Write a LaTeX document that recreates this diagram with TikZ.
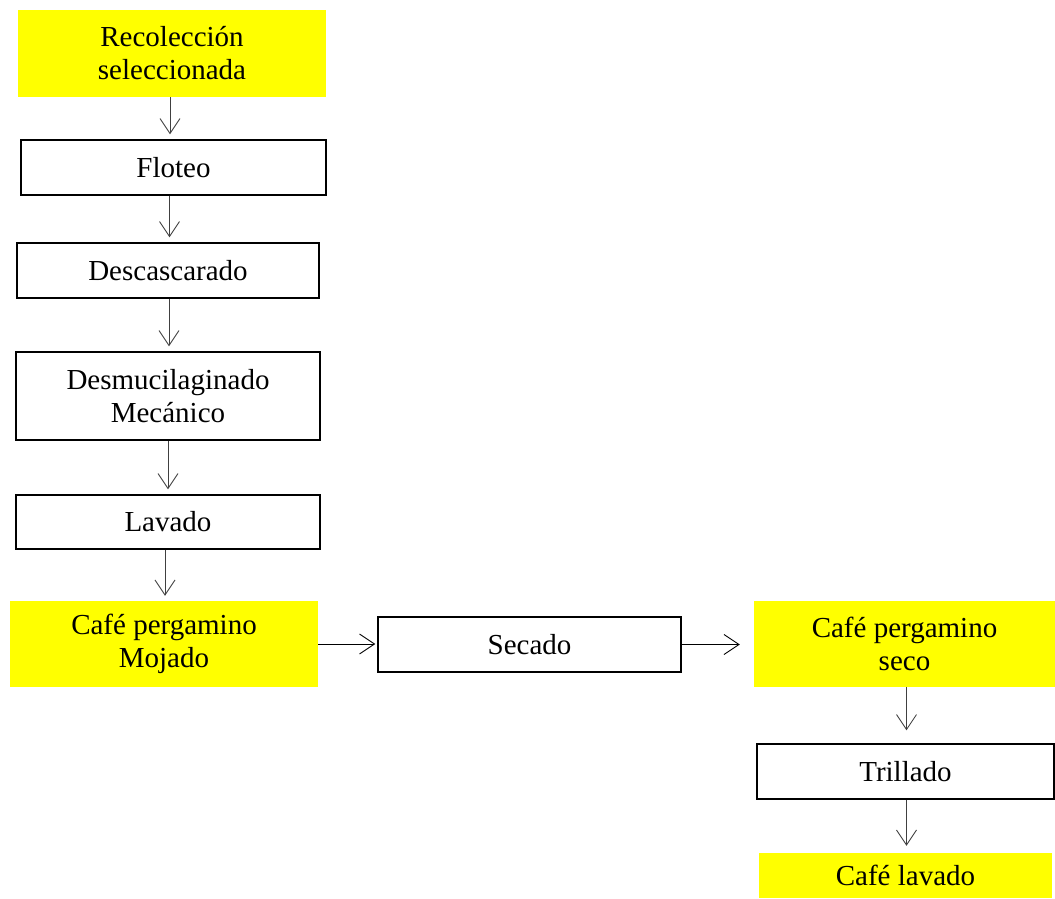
\documentclass[tikz,border=0pt]{standalone}
\usepackage{fontspec}
\setmainfont{Liberation Serif}
\usetikzlibrary{arrows.meta}

\definecolor{hlyellow}{RGB}{255,255,0}

\tikzset{
    stepbox/.style={draw, line width=1.3pt, align=center, inner sep=0pt,
        font=\fontsize{29}{33}\selectfont},
    goal/.style={fill=hlyellow, align=center, inner sep=0pt,
        font=\fontsize{29}{33}\selectfont},
    flow/.style={draw=black!75, line width=0.9pt,
        arrows={-Straight Barb[length=15pt, width=20pt, line width=0.9pt]}},
}

\begin{document}
\begin{tikzpicture}[x=1pt, y=-1pt]
    \useasboundingbox (0,0) rectangle (1055,899);

    % left column
    \node[goal, minimum width=308, minimum height=87] (rec) at (172,53.5) {Recolección\\seleccionada};
    \node[stepbox, minimum width=305, minimum height=55] (flo) at (173.5,167.5) {Floteo};
    \node[stepbox, minimum width=302, minimum height=55] (desc) at (168,270.5) {Descascarado};
    \node[stepbox, minimum width=304, minimum height=88] (desm) at (168,396) {Desmucilaginado\\Mecánico};
    \node[stepbox, minimum width=304, minimum height=54] (lav) at (168,522) {Lavado};
    \node[goal, minimum width=308, minimum height=86] (moj) at (164,644) {Café pergamino\\Mojado};

    % middle and right column
    \node[stepbox, minimum width=303, minimum height=55] (sec) at (529.5,644.5) {Secado};
    \node[goal, minimum width=301, minimum height=86] (seco) at (904.5,644) {Café pergamino\\seco};
    \node[stepbox, minimum width=297, minimum height=55] (tri) at (905.5,771.5) {Trillado};
    \node[goal, minimum width=293, minimum height=45] (lavado) at (905.5,875.5) {Café lavado};

    \draw[flow, shorten >=5pt] ([xshift=-2pt]rec.south) -- ([xshift=-2pt]rec.south |- flo.north);
    \draw[flow, shorten >=5pt] ([xshift=-4pt]flo.south) -- ([xshift=-4pt]flo.south |- desc.north);
    \draw[flow, shorten >=5pt] ([xshift=1pt]desc.south) -- ([xshift=1pt]desc.south |- desm.north);
    \draw[flow, shorten >=5pt] (desm.south) -- (desm.south |- lav.north);
    \draw[flow, shorten >=5pt] ([xshift=-3pt]lav.south) -- ([xshift=-3pt]lav.south |- moj.north);
    \draw[flow, draw=black, shorten >=2pt] (moj.east) -- (moj.east -| sec.west);
    \draw[flow, draw=black, shorten >=14pt] (sec.east) -- (sec.east -| seco.west);
    \draw[flow, shorten >=13pt] ([xshift=2pt]seco.south) -- ([xshift=2pt]seco.south |- tri.north);
    \draw[flow, shorten >=7pt] ([xshift=1pt]tri.south) -- ([xshift=1pt]tri.south |- lavado.north);
\end{tikzpicture}
\end{document}
